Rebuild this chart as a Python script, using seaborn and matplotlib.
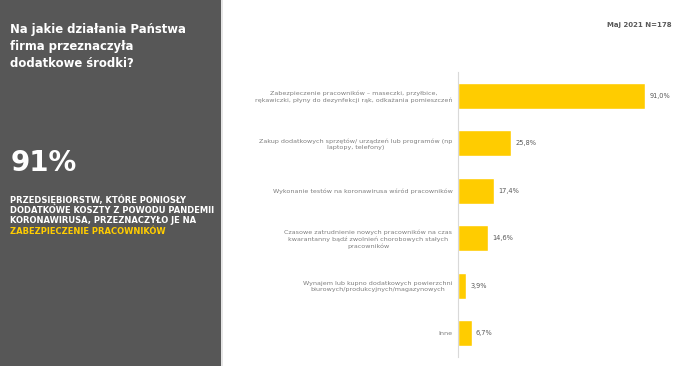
import matplotlib.pyplot as plt
import seaborn as sns
import pandas as pd
from matplotlib.patches import Rectangle

# Survey data (Maj 2021, N=178)
categories = [
    "Zabezpieczenie pracowników – maseczki, przyłbice,\nrękawiczki, płyny do dezynfekcji rąk, odkażania pomieszczeń",
    "Zakup dodatkowych sprzętów/ urządzeń lub programów (np\nlaptopy, telefony)",
    "Wykonanie testów na koronawirusa wśród pracowników",
    "Czasowe zatrudnienie nowych pracowników na czas\nkwarantanny bądź zwolnień chorobowych stałych\npracowników",
    "Wynajem lub kupno dodatkowych powierzchni\nbiurowych/produkcyjnych/magazynowych",
    "Inne",
]
values = [91.0, 25.8, 17.4, 14.6, 3.9, 6.7]
value_labels = ["91,0%", "25,8%", "17,4%", "14,6%", "3,9%", "6,7%"]

summary_lines = [
    "PRZEDSIĘBIORSTW, KTÓRE PONIOSŁY",
    "DODATKOWE KOSZTY Z POWODU PANDEMII",
    "KORONAWIRUSA, PRZEZNACZYŁO JE NA",
    "ZABEZPIECZENIE PRACOWNIKÓW",
]

df = pd.DataFrame({"Działanie": categories, "Procent": values})

sns.set_style("white")
plt.rcParams["font.family"] = ["DejaVu Sans"]

yellow = "#FFCC00"
panel_gray = "#575757"

fig = plt.figure(figsize=(7, 3.66), dpi=100)

# left dark panel
fig.patches.append(Rectangle((0, 0), 221 / 700, 1, transform=fig.transFigure,
                             facecolor=panel_gray, edgecolor="none", zorder=0))
fig.patches.append(Rectangle((221 / 700, 0), 2 / 700, 1, transform=fig.transFigure,
                             facecolor="#e6e6e6", edgecolor="none", zorder=0))

fig.text(10 / 700, 1 - 23 / 366, "Na jakie działania Państwa\nfirma przeznaczyła\ndodatkowe środki?",
         color="white", fontsize=8.4, fontweight="bold", va="top", ha="left", linespacing=1.4)
fig.text(11 / 700, 1 - 163 / 366, "91%", color="white", fontsize=20, fontweight="bold",
         va="center", ha="left")
for i, line in enumerate(summary_lines):
    fig.text(10 / 700, 1 - (200 + 10.4 * i) / 366, line,
             color=yellow if i == 3 else "white", fontsize=6, fontweight="bold",
             va="center", ha="left")

fig.text(672 / 700, 1 - 25 / 366, "Maj 2021 N=178", color="#595959", fontsize=5,
         fontweight="bold", ha="right", va="center")

# bar chart
ax = fig.add_axes([458 / 700, 9 / 366, 232 / 700, 285 / 366])
sns.barplot(data=df, y="Działanie", x="Procent", orient="h", color=yellow,
            width=0.55, saturation=1, ax=ax)
ax.set_xlim(0, 112.9)
ax.set_ylim(5.5, -0.5)
ax.bar_label(ax.containers[0], labels=value_labels, padding=3, fontsize=4.8, color="#595959")

for side in ["top", "right", "bottom"]:
    ax.spines[side].set_visible(False)
ax.spines["left"].set_color("#d9d9d9")
ax.spines["left"].set_linewidth(0.8)
ax.set_xticks([])
ax.set_xlabel("")
ax.set_ylabel("")
ax.tick_params(axis="y", length=0, pad=4, labelsize=4.6, labelcolor="#7f7f7f")
for lbl in ax.get_yticklabels():
    lbl.set_multialignment("center")
    lbl.set_linespacing(1.3)

fig.savefig("out.png", dpi=100)
